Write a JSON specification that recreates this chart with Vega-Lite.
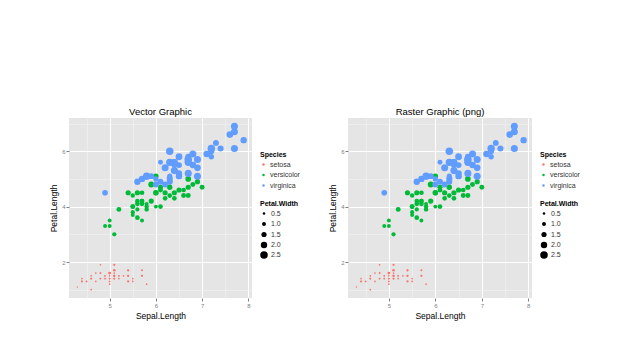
{
  "$schema": "https://vega.github.io/schema/vega-lite/v6.json",
  "background": "white",
  "padding": {"left": 49, "top": 106, "right": 5, "bottom": 5},
  "spacing": 28,
  "config": {
    "font": "Liberation Sans",
    "view": {"stroke": null, "fill": "#E5E5E5"},
    "title": {"fontSize": 9.5, "fontWeight": "normal", "color": "black", "offset": 2},
    "axis": {
      "domain": false,
      "labelFontSize": 6,
      "labelColor": "#7F7F7F",
      "tickColor": "#7F7F7F",
      "tickSize": 3,
      "labelPadding": 1,
      "labelOverlap": false,
      "titleFontSize": 8.5,
      "titleFontWeight": "normal",
      "titleColor": "black"
    },
    "legend": {
      "titleFontSize": 7,
      "titleFontWeight": "bold",
      "labelFontSize": 7,
      "labelColor": "#333333",
      "rowPadding": 2.5,
      "titlePadding": 3,
      "labelOffset": 3,
      "padding": 0
    }
  },
  "datasets": {
    "iris": [
      {"sl":5.1,"pl":1.4,"pw":0.2,"sp":"setosa"},{"sl":4.9,"pl":1.4,"pw":0.2,"sp":"setosa"},{"sl":4.7,"pl":1.3,"pw":0.2,"sp":"setosa"},{"sl":4.6,"pl":1.5,"pw":0.2,"sp":"setosa"},{"sl":5.0,"pl":1.4,"pw":0.2,"sp":"setosa"},
      {"sl":5.4,"pl":1.7,"pw":0.4,"sp":"setosa"},{"sl":4.6,"pl":1.4,"pw":0.3,"sp":"setosa"},{"sl":5.0,"pl":1.5,"pw":0.2,"sp":"setosa"},{"sl":4.4,"pl":1.4,"pw":0.2,"sp":"setosa"},{"sl":4.9,"pl":1.5,"pw":0.1,"sp":"setosa"},
      {"sl":5.4,"pl":1.5,"pw":0.2,"sp":"setosa"},{"sl":4.8,"pl":1.6,"pw":0.2,"sp":"setosa"},{"sl":4.8,"pl":1.4,"pw":0.1,"sp":"setosa"},{"sl":4.3,"pl":1.1,"pw":0.1,"sp":"setosa"},{"sl":5.8,"pl":1.2,"pw":0.2,"sp":"setosa"},
      {"sl":5.7,"pl":1.5,"pw":0.4,"sp":"setosa"},{"sl":5.4,"pl":1.3,"pw":0.4,"sp":"setosa"},{"sl":5.1,"pl":1.4,"pw":0.3,"sp":"setosa"},{"sl":5.7,"pl":1.7,"pw":0.3,"sp":"setosa"},{"sl":5.1,"pl":1.5,"pw":0.3,"sp":"setosa"},
      {"sl":5.4,"pl":1.7,"pw":0.2,"sp":"setosa"},{"sl":5.1,"pl":1.5,"pw":0.4,"sp":"setosa"},{"sl":4.6,"pl":1.0,"pw":0.2,"sp":"setosa"},{"sl":5.1,"pl":1.7,"pw":0.5,"sp":"setosa"},{"sl":4.8,"pl":1.9,"pw":0.2,"sp":"setosa"},
      {"sl":5.0,"pl":1.6,"pw":0.2,"sp":"setosa"},{"sl":5.0,"pl":1.6,"pw":0.4,"sp":"setosa"},{"sl":5.2,"pl":1.5,"pw":0.2,"sp":"setosa"},{"sl":5.2,"pl":1.4,"pw":0.2,"sp":"setosa"},{"sl":4.7,"pl":1.6,"pw":0.2,"sp":"setosa"},
      {"sl":4.8,"pl":1.6,"pw":0.2,"sp":"setosa"},{"sl":5.4,"pl":1.5,"pw":0.4,"sp":"setosa"},{"sl":5.2,"pl":1.5,"pw":0.1,"sp":"setosa"},{"sl":5.5,"pl":1.4,"pw":0.2,"sp":"setosa"},{"sl":4.9,"pl":1.5,"pw":0.2,"sp":"setosa"},
      {"sl":5.0,"pl":1.2,"pw":0.2,"sp":"setosa"},{"sl":5.5,"pl":1.3,"pw":0.2,"sp":"setosa"},{"sl":4.9,"pl":1.4,"pw":0.1,"sp":"setosa"},{"sl":4.4,"pl":1.3,"pw":0.2,"sp":"setosa"},{"sl":5.1,"pl":1.5,"pw":0.2,"sp":"setosa"},
      {"sl":5.0,"pl":1.3,"pw":0.3,"sp":"setosa"},{"sl":4.5,"pl":1.3,"pw":0.3,"sp":"setosa"},{"sl":4.4,"pl":1.3,"pw":0.2,"sp":"setosa"},{"sl":5.0,"pl":1.6,"pw":0.6,"sp":"setosa"},{"sl":5.1,"pl":1.9,"pw":0.4,"sp":"setosa"},
      {"sl":4.8,"pl":1.4,"pw":0.3,"sp":"setosa"},{"sl":5.1,"pl":1.6,"pw":0.2,"sp":"setosa"},{"sl":4.6,"pl":1.4,"pw":0.2,"sp":"setosa"},{"sl":5.3,"pl":1.5,"pw":0.2,"sp":"setosa"},{"sl":5.0,"pl":1.4,"pw":0.2,"sp":"setosa"},
      {"sl":7.0,"pl":4.7,"pw":1.4,"sp":"versicolor"},{"sl":6.4,"pl":4.5,"pw":1.5,"sp":"versicolor"},{"sl":6.9,"pl":4.9,"pw":1.5,"sp":"versicolor"},{"sl":5.5,"pl":4.0,"pw":1.3,"sp":"versicolor"},{"sl":6.5,"pl":4.6,"pw":1.5,"sp":"versicolor"},
      {"sl":5.7,"pl":4.5,"pw":1.3,"sp":"versicolor"},{"sl":6.3,"pl":4.7,"pw":1.6,"sp":"versicolor"},{"sl":4.9,"pl":3.3,"pw":1.0,"sp":"versicolor"},{"sl":6.6,"pl":4.6,"pw":1.3,"sp":"versicolor"},{"sl":5.2,"pl":3.9,"pw":1.4,"sp":"versicolor"},
      {"sl":5.0,"pl":3.5,"pw":1.0,"sp":"versicolor"},{"sl":5.9,"pl":4.2,"pw":1.5,"sp":"versicolor"},{"sl":6.0,"pl":4.0,"pw":1.0,"sp":"versicolor"},{"sl":6.1,"pl":4.7,"pw":1.4,"sp":"versicolor"},{"sl":5.6,"pl":3.6,"pw":1.3,"sp":"versicolor"},
      {"sl":6.7,"pl":4.4,"pw":1.4,"sp":"versicolor"},{"sl":5.6,"pl":4.5,"pw":1.5,"sp":"versicolor"},{"sl":5.8,"pl":4.1,"pw":1.0,"sp":"versicolor"},{"sl":6.2,"pl":4.5,"pw":1.5,"sp":"versicolor"},{"sl":5.6,"pl":3.9,"pw":1.1,"sp":"versicolor"},
      {"sl":5.9,"pl":4.8,"pw":1.8,"sp":"versicolor"},{"sl":6.1,"pl":4.0,"pw":1.3,"sp":"versicolor"},{"sl":6.3,"pl":4.9,"pw":1.5,"sp":"versicolor"},{"sl":6.1,"pl":4.7,"pw":1.2,"sp":"versicolor"},{"sl":6.4,"pl":4.3,"pw":1.3,"sp":"versicolor"},
      {"sl":6.6,"pl":4.4,"pw":1.4,"sp":"versicolor"},{"sl":6.8,"pl":4.8,"pw":1.4,"sp":"versicolor"},{"sl":6.7,"pl":5.0,"pw":1.7,"sp":"versicolor"},{"sl":6.0,"pl":4.5,"pw":1.5,"sp":"versicolor"},{"sl":5.7,"pl":3.5,"pw":1.0,"sp":"versicolor"},
      {"sl":5.5,"pl":3.8,"pw":1.1,"sp":"versicolor"},{"sl":5.5,"pl":3.7,"pw":1.0,"sp":"versicolor"},{"sl":5.8,"pl":3.9,"pw":1.2,"sp":"versicolor"},{"sl":6.0,"pl":5.1,"pw":1.6,"sp":"versicolor"},{"sl":5.4,"pl":4.5,"pw":1.5,"sp":"versicolor"},
      {"sl":6.0,"pl":4.5,"pw":1.6,"sp":"versicolor"},{"sl":6.7,"pl":4.7,"pw":1.5,"sp":"versicolor"},{"sl":6.3,"pl":4.4,"pw":1.3,"sp":"versicolor"},{"sl":5.6,"pl":4.1,"pw":1.3,"sp":"versicolor"},{"sl":5.5,"pl":4.0,"pw":1.3,"sp":"versicolor"},
      {"sl":5.5,"pl":4.4,"pw":1.2,"sp":"versicolor"},{"sl":6.1,"pl":4.6,"pw":1.4,"sp":"versicolor"},{"sl":5.8,"pl":4.0,"pw":1.2,"sp":"versicolor"},{"sl":5.0,"pl":3.3,"pw":1.0,"sp":"versicolor"},{"sl":5.6,"pl":4.2,"pw":1.3,"sp":"versicolor"},
      {"sl":5.7,"pl":4.2,"pw":1.2,"sp":"versicolor"},{"sl":5.7,"pl":4.2,"pw":1.3,"sp":"versicolor"},{"sl":6.2,"pl":4.3,"pw":1.3,"sp":"versicolor"},{"sl":5.1,"pl":3.0,"pw":1.1,"sp":"versicolor"},{"sl":5.7,"pl":4.1,"pw":1.3,"sp":"versicolor"},
      {"sl":6.3,"pl":6.0,"pw":2.5,"sp":"virginica"},{"sl":5.8,"pl":5.1,"pw":1.9,"sp":"virginica"},{"sl":7.1,"pl":5.9,"pw":2.1,"sp":"virginica"},{"sl":6.3,"pl":5.6,"pw":1.8,"sp":"virginica"},{"sl":6.5,"pl":5.8,"pw":2.2,"sp":"virginica"},
      {"sl":7.6,"pl":6.6,"pw":2.1,"sp":"virginica"},{"sl":4.9,"pl":4.5,"pw":1.7,"sp":"virginica"},{"sl":7.3,"pl":6.3,"pw":1.8,"sp":"virginica"},{"sl":6.7,"pl":5.8,"pw":1.8,"sp":"virginica"},{"sl":7.2,"pl":6.1,"pw":2.5,"sp":"virginica"},
      {"sl":6.5,"pl":5.1,"pw":2.0,"sp":"virginica"},{"sl":6.4,"pl":5.3,"pw":1.9,"sp":"virginica"},{"sl":6.8,"pl":5.5,"pw":2.1,"sp":"virginica"},{"sl":5.7,"pl":5.0,"pw":2.0,"sp":"virginica"},{"sl":5.8,"pl":5.1,"pw":2.4,"sp":"virginica"},
      {"sl":6.4,"pl":5.3,"pw":2.3,"sp":"virginica"},{"sl":6.5,"pl":5.5,"pw":1.8,"sp":"virginica"},{"sl":7.7,"pl":6.7,"pw":2.2,"sp":"virginica"},{"sl":7.7,"pl":6.9,"pw":2.3,"sp":"virginica"},{"sl":6.0,"pl":5.0,"pw":1.5,"sp":"virginica"},
      {"sl":6.9,"pl":5.7,"pw":2.3,"sp":"virginica"},{"sl":5.6,"pl":4.9,"pw":2.0,"sp":"virginica"},{"sl":7.7,"pl":6.7,"pw":2.0,"sp":"virginica"},{"sl":6.3,"pl":4.9,"pw":1.8,"sp":"virginica"},{"sl":6.7,"pl":5.7,"pw":2.1,"sp":"virginica"},
      {"sl":7.2,"pl":6.0,"pw":1.8,"sp":"virginica"},{"sl":6.2,"pl":4.8,"pw":1.8,"sp":"virginica"},{"sl":6.1,"pl":4.9,"pw":1.8,"sp":"virginica"},{"sl":6.4,"pl":5.6,"pw":2.1,"sp":"virginica"},{"sl":7.2,"pl":5.8,"pw":1.6,"sp":"virginica"},
      {"sl":7.4,"pl":6.1,"pw":1.9,"sp":"virginica"},{"sl":7.9,"pl":6.4,"pw":2.0,"sp":"virginica"},{"sl":6.4,"pl":5.6,"pw":2.2,"sp":"virginica"},{"sl":6.3,"pl":5.1,"pw":1.5,"sp":"virginica"},{"sl":6.1,"pl":5.6,"pw":1.4,"sp":"virginica"},
      {"sl":7.7,"pl":6.1,"pw":2.3,"sp":"virginica"},{"sl":6.3,"pl":5.6,"pw":2.4,"sp":"virginica"},{"sl":6.4,"pl":5.5,"pw":1.8,"sp":"virginica"},{"sl":6.0,"pl":4.8,"pw":1.8,"sp":"virginica"},{"sl":6.9,"pl":5.4,"pw":2.1,"sp":"virginica"},
      {"sl":6.7,"pl":5.6,"pw":2.4,"sp":"virginica"},{"sl":6.9,"pl":5.1,"pw":2.3,"sp":"virginica"},{"sl":5.8,"pl":5.1,"pw":1.9,"sp":"virginica"},{"sl":6.8,"pl":5.9,"pw":2.3,"sp":"virginica"},{"sl":6.7,"pl":5.7,"pw":2.5,"sp":"virginica"},
      {"sl":6.7,"pl":5.2,"pw":2.3,"sp":"virginica"},{"sl":6.3,"pl":5.0,"pw":1.9,"sp":"virginica"},{"sl":6.5,"pl":5.2,"pw":2.0,"sp":"virginica"},{"sl":6.2,"pl":5.4,"pw":2.3,"sp":"virginica"},{"sl":5.9,"pl":5.1,"pw":1.8,"sp":"virginica"}
    ]
  },
  "resolve": {
    "scale": {"color": "independent", "size": "independent", "x": "independent", "y": "independent"},
    "legend": {"color": "independent", "size": "independent"}
  },
  "hconcat": [
    {
      "title": "Vector Graphic",
      "width": 183,
      "height": 180,
      "data": {"name": "iris"},
      "mark": {"type": "point", "filled": true, "opacity": 1, "strokeWidth": 0},
      "encoding": {
        "x": {"field": "sl", "type": "quantitative", "title": "Sepal.Length",
          "scale": {"domain": [4.12, 8.08], "nice": false, "zero": false},
          "axis": {"values": [4.5, 5, 5.5, 6, 6.5, 7, 7.5, 8],
            "labelExpr": "datum.value % 1 == 0 ? '' + datum.value : ''",
            "gridColor": {"condition": {"test": "datum.value % 1 == 0", "value": "#FFFFFF"}, "value": "#F2F2F2"},
            "gridWidth": {"condition": {"test": "datum.value % 1 == 0", "value": 1}, "value": 0.6},
            "tickOpacity": {"condition": {"test": "datum.value % 1 == 0", "value": 1}, "value": 0},
            "titlePadding": 3}},
        "y": {"field": "pl", "type": "quantitative", "title": "Petal.Length",
          "scale": {"domain": [0.7, 7.2], "nice": false, "zero": false},
          "axis": {"values": [1, 2, 3, 4, 5, 6, 7],
            "labelExpr": "datum.value % 2 == 0 ? '' + datum.value : ''",
            "gridColor": {"condition": {"test": "datum.value % 2 == 0", "value": "#FFFFFF"}, "value": "#F2F2F2"},
            "gridWidth": {"condition": {"test": "datum.value % 2 == 0", "value": 1}, "value": 0.6},
            "tickOpacity": {"condition": {"test": "datum.value % 2 == 0", "value": 1}, "value": 0},
            "titlePadding": 3}},
        "color": {"field": "sp", "type": "nominal", "title": "Species",
          "scale": {"domain": ["setosa", "versicolor", "virginica"], "range": ["#F8766D", "#00BA38", "#619CFF"]},
          "legend": {"orient": "none", "legendX": 191, "legendY": 33, "symbolSize": 6, "symbolType": "circle", "symbolStrokeWidth": 0}},
        "size": {"field": "pw", "type": "quantitative", "title": "Petal.Width",
          "scale": {"type": "pow", "exponent": 1.5, "domain": [0.1, 2.5], "range": [2, 56]},
          "legend": {"orient": "none", "legendX": 191, "legendY": 82, "values": [0.5, 1, 1.5, 2, 2.5], "format": ".1f",
            "symbolFillColor": "black", "symbolStrokeColor": "black", "symbolStrokeWidth": 0, "symbolType": "circle"}}
      }
    },
    {
      "title": "Raster Graphic (png)",
      "width": 184,
      "height": 180,
      "data": {"name": "iris"},
      "mark": {"type": "point", "filled": true, "opacity": 1, "strokeWidth": 0},
      "encoding": {
        "x": {"field": "sl", "type": "quantitative", "title": "Sepal.Length",
          "scale": {"domain": [4.12, 8.08], "nice": false, "zero": false},
          "axis": {"values": [4.5, 5, 5.5, 6, 6.5, 7, 7.5, 8],
            "labelExpr": "datum.value % 1 == 0 ? '' + datum.value : ''",
            "gridColor": {"condition": {"test": "datum.value % 1 == 0", "value": "#FFFFFF"}, "value": "#F2F2F2"},
            "gridWidth": {"condition": {"test": "datum.value % 1 == 0", "value": 1}, "value": 0.6},
            "tickOpacity": {"condition": {"test": "datum.value % 1 == 0", "value": 1}, "value": 0},
            "titlePadding": 3}},
        "y": {"field": "pl", "type": "quantitative", "title": "Petal.Length",
          "scale": {"domain": [0.7, 7.2], "nice": false, "zero": false},
          "axis": {"values": [1, 2, 3, 4, 5, 6, 7],
            "labelExpr": "datum.value % 2 == 0 ? '' + datum.value : ''",
            "gridColor": {"condition": {"test": "datum.value % 2 == 0", "value": "#FFFFFF"}, "value": "#F2F2F2"},
            "gridWidth": {"condition": {"test": "datum.value % 2 == 0", "value": 1}, "value": 0.6},
            "tickOpacity": {"condition": {"test": "datum.value % 2 == 0", "value": 1}, "value": 0},
            "titlePadding": 3}},
        "color": {"field": "sp", "type": "nominal", "title": "Species",
          "scale": {"domain": ["setosa", "versicolor", "virginica"], "range": ["#F8766D", "#00BA38", "#619CFF"]},
          "legend": {"orient": "none", "legendX": 192, "legendY": 33, "symbolSize": 6, "symbolType": "circle", "symbolStrokeWidth": 0}},
        "size": {"field": "pw", "type": "quantitative", "title": "Petal.Width",
          "scale": {"type": "pow", "exponent": 1.5, "domain": [0.1, 2.5], "range": [2, 56]},
          "legend": {"orient": "none", "legendX": 192, "legendY": 82, "values": [0.5, 1, 1.5, 2, 2.5], "format": ".1f",
            "symbolFillColor": "black", "symbolStrokeColor": "black", "symbolStrokeWidth": 0, "symbolType": "circle"}}
      }
    }
  ]
}
